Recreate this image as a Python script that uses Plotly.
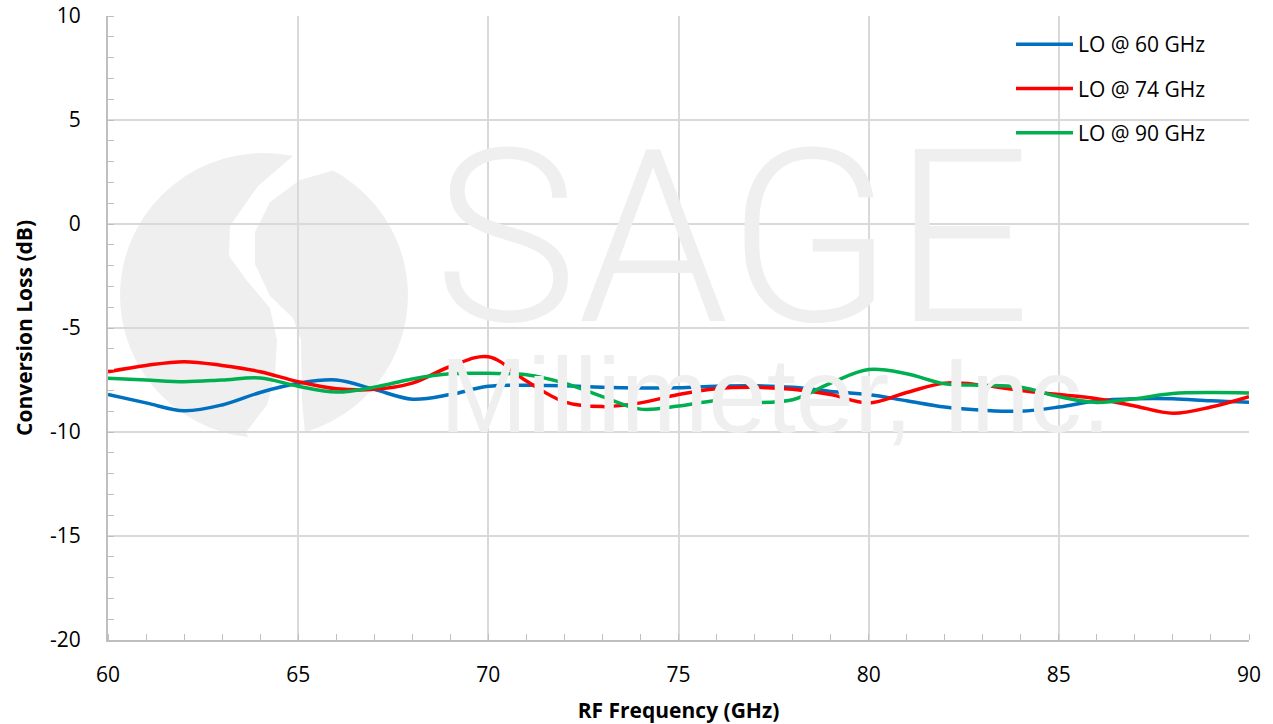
import plotly.graph_objects as go

freq = list(range(60, 91))

lo60 = [-8.2, -8.6, -8.98, -8.7, -8.1, -7.66, -7.5, -7.95, -8.42, -8.2, -7.8,
        -7.75, -7.78, -7.85, -7.88, -7.87, -7.8, -7.78, -7.85, -8.05, -8.2,
        -8.5, -8.8, -8.95, -9.0, -8.8, -8.5, -8.4, -8.4, -8.5, -8.57]
lo74 = [-7.1, -6.8, -6.62, -6.8, -7.1, -7.58, -7.92, -7.95, -7.65, -6.85, -6.38,
        -7.55, -8.55, -8.78, -8.6, -8.2, -7.92, -7.85, -7.95, -8.2, -8.6,
        -8.1, -7.65, -7.75, -8.0, -8.2, -8.4, -8.75, -9.1, -8.8, -8.3]
lo90 = [-7.42, -7.5, -7.58, -7.5, -7.4, -7.8, -8.08, -7.85, -7.45, -7.2, -7.18,
        -7.25, -7.65, -8.3, -8.9, -8.75, -8.5, -8.58, -8.45, -7.65, -7.0,
        -7.2, -7.68, -7.75, -7.85, -8.3, -8.58, -8.4, -8.15, -8.1, -8.12]

series = [("LO @ 60 GHz", lo60, "#0070C0"),
          ("LO @ 74 GHz", lo74, "#FF0000"),
          ("LO @ 90 GHz", lo90, "#00B050")]

x_ticks = [60, 65, 70, 75, 80, 85, 90]
y_ticks = [10, 5, 0, -5, -10, -15, -20]
y_tick_text = ["10", "5", "0", "-5", "-10", "-15", "-20"]

FONT = "Open Sans, Liberation Sans, sans-serif"
FS = 21

W, H = 1273, 724
# plot-area frame in page pixels (used for the decorative watermark only)
PL, PR, PT, PB = 108, 1249, 16, 640


def px(x):
    return (x - PL) / (PR - PL)


def py(y):
    return (PB - y) / (PB - PT)


fig = go.Figure()
for i, (name, vals, col) in enumerate(series):
    fig.add_trace(go.Scatter(x=freq, y=vals, name=name, mode="lines",
                             line=dict(color=col, width=3.5, shape="spline", smoothing=1.0),
                             legendgroup=f"g{i}"))

# watermark logo (decorative)
wm = "#efefef"
fig.add_shape(type="circle", xref="paper", yref="paper",
              x0=px(120), x1=px(408), y0=py(438), y1=py(153),
              fillcolor=wm, line=dict(width=0), layer="below")
gap = [(300, 150), (258, 186), (230, 226), (229, 256), (248, 282), (270, 308),
       (277, 340), (275, 375), (267, 405), (246, 432), (252, 445), (306, 445),
       (302, 400), (301, 340), (293, 318), (270, 296), (255, 264), (255, 232),
       (270, 202), (300, 180), (335, 170), (365, 168), (365, 150)]
path = "M " + " L ".join(f"{px(a):.5f},{py(b):.5f}" for a, b in gap) + " Z"
fig.add_shape(type="path", xref="paper", yref="paper", path=path,
              fillcolor="white", line=dict(width=0), layer="below")
fig.add_annotation(text="SAGE", xref="paper", yref="paper",
                   x=px(732), y=py(238), showarrow=False,
                   font=dict(family="Roboto, Liberation Sans, sans-serif", size=242,
                             color=wm, weight=300))
fig.add_annotation(text="Millimeter, Inc.", xref="paper", yref="paper",
                   x=px(775), y=py(395), showarrow=False,
                   font=dict(family="Liberation Sans, sans-serif", size=105, color=wm))

fig.update_layout(
    width=W, height=H,
    margin=dict(l=PL, r=W - PR, t=PT, b=H - PB),
    paper_bgcolor="white", plot_bgcolor="rgba(0,0,0,0)",
    font=dict(family=FONT, size=FS, color="black"),
    showlegend=True,
    legend=dict(x=px(1011), y=py(24), xanchor="left", yanchor="top",
                bgcolor="rgba(0,0,0,0)", font=dict(size=FS), tracegroupgap=14,
                itemwidth=57),
    xaxis=dict(range=[60, 90], tickvals=x_ticks, showgrid=True, gridcolor="#d9d9d9",
               gridwidth=1.5, zeroline=False, showline=True, linecolor="#bfbfbf",
               linewidth=2, ticks="", ticklabelstandoff=15, automargin=False,
               ticklabeloverflow="allow",
               minor=dict(dtick=1, ticks="inside", ticklen=6, tickcolor="#bfbfbf",
                          showgrid=False),
               title=dict(text="<b>RF Frequency (GHz)</b>", font=dict(size=FS), standoff=16)),
    yaxis=dict(range=[-20, 10], tickvals=y_ticks, ticktext=y_tick_text, showgrid=True,
               gridcolor="#d9d9d9", gridwidth=1.5, zeroline=False, showline=True,
               linecolor="#bfbfbf", linewidth=2, ticks="", ticklabelstandoff=21,
               automargin=False, ticklabeloverflow="allow",
               minor=dict(dtick=1, ticks="inside", ticklen=6, tickcolor="#bfbfbf",
                          showgrid=False),
               title=dict(text="<b>Conversion Loss (dB)</b>", font=dict(size=FS), standoff=12)),
)

fig.write_html("out.html", config={"displayModeBar": False},
               post_script="document.body.style.margin='0';document.body.style.overflow='hidden';")
